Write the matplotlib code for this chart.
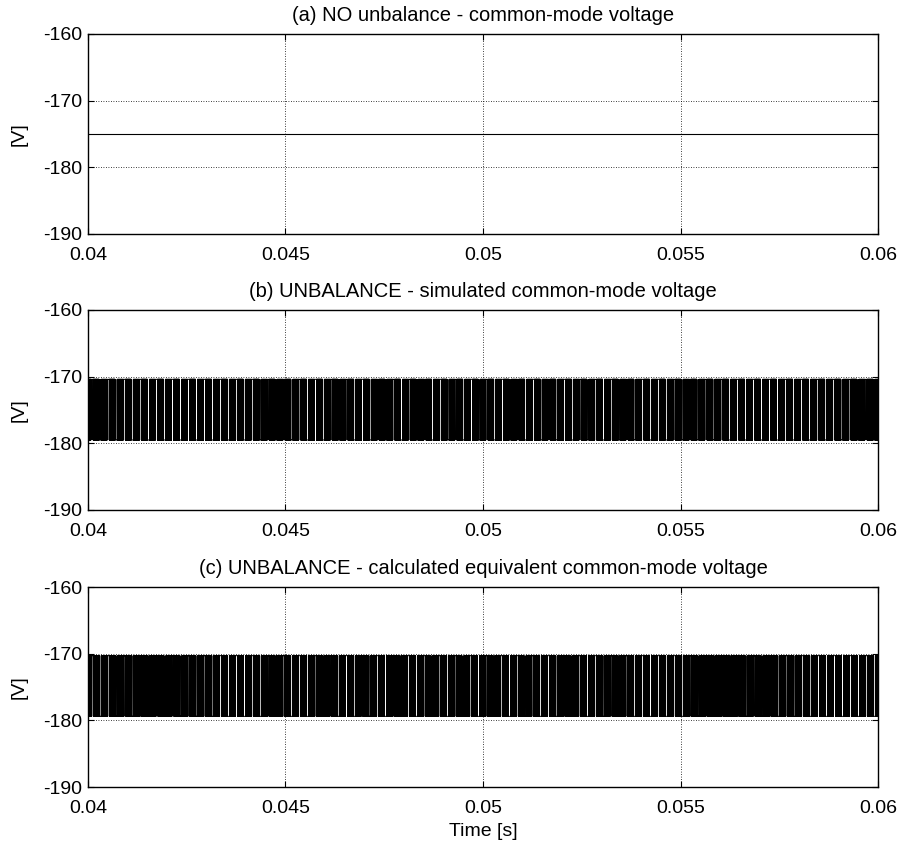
import numpy as np
import matplotlib
matplotlib.use("Agg")
import matplotlib.pyplot as plt

plt.rcParams["font.family"] = ["Liberation Sans", "DejaVu Sans"]
plt.rcParams["font.size"] = 14

# Time window and axis settings
t_start, t_end = 0.04, 0.06
x_ticks = [0.04, 0.045, 0.05, 0.055, 0.06]
x_tick_labels = ["0.04", "0.045", "0.05", "0.055", "0.06"]
y_ticks = [-190, -180, -170, -160]
y_tick_labels = ["-190", "-180", "-170", "-160"]

titles = [
    "(a) NO unbalance - common-mode voltage",
    "(b) UNBALANCE - simulated common-mode voltage",
    "(c) UNBALANCE - calculated equivalent common-mode voltage",
]

# Balanced case: constant common-mode voltage
v_balanced = -175.0

# Unbalanced cases: two-level switching between these voltages
v_high_sim, v_low_sim = -170.4, -179.5
v_high_calc, v_low_calc = -170.3, -179.4
f_switch = 5000.0      # carrier frequency [Hz]
f_fund = 50.0          # fundamental frequency [Hz]
t_step = 2e-6          # simulation step [s]
t_hold = 5.0e-5        # flat interval once per carrier period [s]


def switching_wave(v_hi, v_lo, phase):
    t = np.arange(t_start, t_end + t_step, t_step)
    parity = (np.arange(t.size) % 2 == 0)
    v = np.where(parity, v_hi, v_lo)
    # position of the flat interval inside each carrier period follows the fundamental
    period = 1.0 / f_switch
    pos = (0.5 + 0.4 * np.sin(2 * np.pi * f_fund * t + phase)) * (period - t_hold)
    local = np.mod(t - t_start, period)
    hold = (local >= pos) & (local < pos + t_hold)
    k = np.floor((t - t_start) / period).astype(int)
    v = np.where(hold, np.where(k % 2 == 0, v_hi, v_lo), v)
    return t, v


t_sim, v_sim = switching_wave(v_high_sim, v_low_sim, 0.0)
t_calc, v_calc = switching_wave(v_high_calc, v_low_calc, 0.3)

fig = plt.figure(figsize=(9.07, 8.48), dpi=100)
W, H = 907.0, 848.0
left, right = 88, 878
boxes = [(34, 234), (310, 510), (587, 787)]
axes = []
for top, bot in boxes:
    ax = fig.add_axes([left / W, 1 - bot / H, (right - left) / W, (bot - top) / H])
    axes.append(ax)

axes[0].plot([t_start, t_end], [v_balanced, v_balanced], color="black", lw=0.8)
axes[1].plot(t_sim, v_sim, color="black", lw=0.7, drawstyle="steps-post")
axes[2].plot(t_calc, v_calc, color="black", lw=0.7, drawstyle="steps-post")

for ax, title in zip(axes, titles):
    ax.set_xlim(t_start, t_end)
    ax.set_ylim(-190, -160)
    ax.set_xticks(x_ticks)
    ax.set_xticklabels(x_tick_labels)
    ax.set_yticks(y_ticks)
    ax.set_yticklabels(y_tick_labels)
    ax.grid(True, color="black", linestyle=(0, (1, 2)), linewidth=0.6)
    ax.tick_params(direction="in", top=True, right=True, length=4, width=0.8,
                   labelsize=14)
    ax.tick_params(axis="x", pad=9.5)
    ax.tick_params(axis="y", pad=4)
    for s in ax.spines.values():
        s.set_linewidth(1.0)
    ax.set_ylabel("[V]", fontsize=14, labelpad=11)
    ax.set_title(title, fontsize=14.5, pad=9)

axes[2].set_xlabel("Time [s]", fontsize=14, labelpad=4)

fig.savefig("out.png", dpi=100)
